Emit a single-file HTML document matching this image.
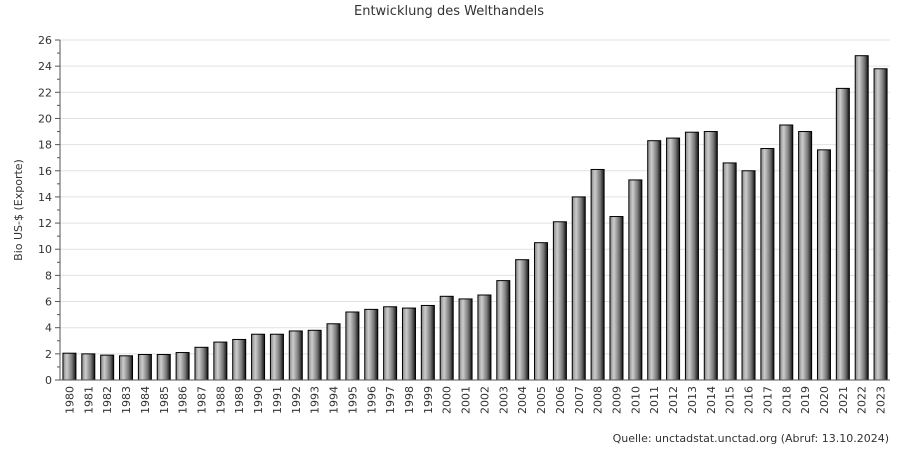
<!DOCTYPE html>
<html><head><meta charset="utf-8"><style>
body{margin:0;background:#fff;}
svg text{font-family:"DejaVu Sans","Liberation Sans",sans-serif;fill:#333;}
</style></head><body>
<svg id="chart" width="900" height="460">
<defs><linearGradient id="bg" x1="0" x2="1" y1="0" y2="0">
<stop offset="0" stop-color="#888"/><stop offset="0.3" stop-color="#ccc"/><stop offset="0.7" stop-color="#777"/><stop offset="1" stop-color="#111"/></linearGradient></defs>
<text x="449" y="15" text-anchor="middle" font-size="13">Entwicklung des Welthandels</text>
<text transform="translate(22,210) rotate(-90)" text-anchor="middle" font-size="11">Bio US-$ (Exporte)</text>
<text x="889" y="442" text-anchor="end" font-size="11">Quelle: unctadstat.unctad.org (Abruf: 13.10.2024)</text>
<g id="grid"></g><g id="bars"></g><g id="axes"></g>
</svg>
<script>
const years=[1980,1981,1982,1983,1984,1985,1986,1987,1988,1989,1990,1991,1992,1993,1994,1995,1996,1997,1998,1999,2000,2001,2002,2003,2004,2005,2006,2007,2008,2009,2010,2011,2012,2013,2014,2015,2016,2017,2018,2019,2020,2021,2022,2023];
const exportsValues=[2.05,2.0,1.9,1.85,1.95,1.95,2.1,2.5,2.9,3.1,3.5,3.5,3.75,3.8,4.3,5.2,5.4,5.6,5.5,5.7,6.4,6.2,6.5,7.6,9.2,10.5,12.1,14.0,16.1,12.5,15.3,18.3,18.5,18.95,19.0,16.6,16.0,17.7,19.5,19.0,17.6,22.3,24.8,23.8];
const yTicks=[0,2,4,6,8,10,12,14,16,18,20,22,24,26];
const NS='http://www.w3.org/2000/svg';
const L=60,R=890,T=40,B=380,YMAX=26;
const y=v=>B-(v/YMAX)*(B-T);
const band=(R-L)/years.length;
const x=i=>L+band*(i+0.5);
function mk(t,a,p){const e=document.createElementNS(NS,t);for(const k in a)e.setAttribute(k,a[k]);p.appendChild(e);return e;}
const g=document.getElementById('grid'),bg=document.getElementById('bars'),ax=document.getElementById('axes');
yTicks.forEach(v=>{
  if(v>0){const gl=mk('line',{x1:L,x2:R,y1:y(v),y2:y(v),stroke:'#e2e2e2'},g);
  
  }
  mk('line',{x1:L-5,x2:L,y1:y(v),y2:y(v),stroke:'#555'},ax);
  const t=mk('text',{x:L-8,y:y(v)+4,'text-anchor':'end','font-size':'11'},ax);t.textContent=v;
  
  
  if(v<YMAX)mk('line',{x1:L-3,x2:L,y1:y(v+1),y2:y(v+1),stroke:'#555'},ax);
});
years.forEach((yr,i)=>{
  const v=exportsValues[i];
  const r=mk('rect',{x:x(i)-6.5,y:y(v),width:13,height:B-y(v),fill:'url(#bg)',stroke:'#000','stroke-width':1},bg);
  
  
  const t=mk('text',{transform:`translate(${x(i)+4},${B+6}) rotate(-90)`,'text-anchor':'end','font-size':'11'},ax);t.textContent=yr;
  
  
});
mk('line',{x1:L,x2:L,y1:T,y2:B,stroke:'#555'},ax);
mk('line',{x1:L,x2:R,y1:B,y2:B,stroke:'#555'},ax);
</script>
</body></html>
